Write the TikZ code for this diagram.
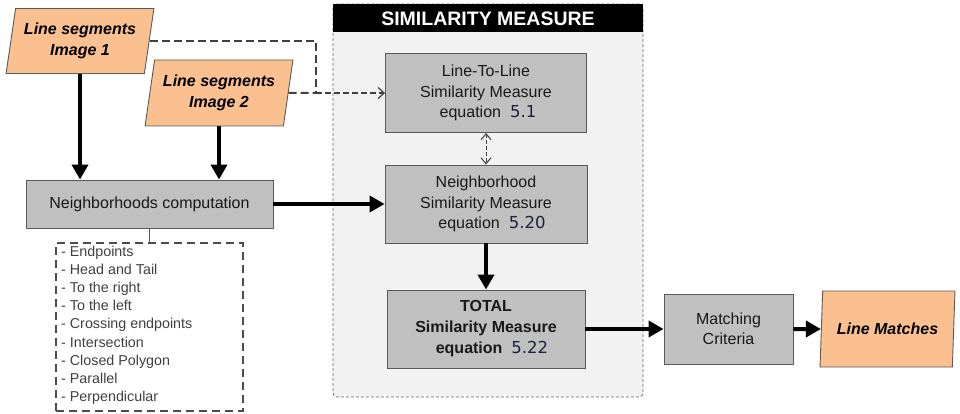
\documentclass[tikz,border=0pt]{standalone}
\usepackage{fontspec}
\setmainfont{Liberation Sans}
\newfontfamily\numfont{DejaVu Sans}
\usetikzlibrary{arrows.meta,shapes.geometric}
\definecolor{peach}{RGB}{250,192,144}
\definecolor{boxgray}{RGB}{192,192,192}
\definecolor{edgegray}{RGB}{90,90,90}
\definecolor{groupfill}{RGB}{242,242,242}
\definecolor{numcol}{RGB}{30,32,64}
\newcommand{\eqnum}[1]{{\fontsize{16.5}{20}\numfont\mdseries\color{numcol}#1}}
\begin{document}
\begin{tikzpicture}[x=1pt,y=-1pt,
  graybox/.style={draw=edgegray, fill=boxgray, line width=0.9pt, align=center,
    inner sep=0pt, font=\fontsize{16}{20.5}\selectfont, text=black!90},
  para/.style={trapezium, trapezium left angle=#1, trapezium right angle=180-#1,
    trapezium stretches=true, draw=edgegray, fill=peach, line width=0.9pt,
    align=center, inner sep=0pt, font=\fontsize{16}{21}\selectfont\bfseries\itshape},
  bigarrow/.style={line width=4pt, -{Triangle[length=15pt,width=16pt]}},
  dashconn/.style={draw=black!75, line width=2pt, dash pattern=on 8pt off 4pt},
  openhead/.style={-{Straight Barb[length=6pt,width=11pt,line width=1.2pt]}}
]
\useasboundingbox (0,0) rectangle (960,414);

% group box
\path[draw=black!60, fill=groupfill, line width=0.7pt, dash pattern=on 3pt off 2pt, rounded corners=4pt]
  (333,4) rectangle (643,397);
\path[fill=black] (333,4) rectangle (643,32);
\node[text=white, font=\fontsize{19.5}{22}\selectfont\bfseries] (hdr) at (488,18.5) {SIMILARITY MEASURE};

% input parallelograms
\node[para=77, minimum width=148pt, minimum height=65pt] (img1) at (80,41) {Line segments\\Image 1};
\node[para=77, minimum width=148pt, minimum height=66pt] (img2) at (219,93) {Line segments\\Image 2};

% boxes
\node[graybox, minimum width=247pt, minimum height=48pt] (nc) at (149.5,204) {Neighborhoods computation};
\node[graybox, minimum width=201pt, minimum height=79pt] (ltl) at (486,93)
  {Line-To-Line\\Similarity Measure\\\hspace*{4pt}equation\hspace{9pt}\eqnum{5.1}};
\node[graybox, minimum width=202pt, minimum height=78pt] (nsm) at (486,204)
  {Neighborhood\\Similarity Measure\\\hspace*{12pt}equation\hspace{9pt}\eqnum{5.20}};
\node[graybox, minimum width=198pt, minimum height=78pt, font=\fontsize{16}{21}\selectfont\bfseries] (tsm) at (486,329)
  {TOTAL\\Similarity Measure\\\hspace*{12pt}equation\hspace{9pt}\eqnum{5.22}};
\node[graybox, minimum width=129pt, minimum height=70pt] (mc) at (728.5,329) {Matching\\Criteria};
\node[para=80, minimum width=135pt, minimum height=76pt] (lm) at (887.5,329) {Line Matches};

% list box
\node[draw=black!70, line width=2pt, dash pattern=on 8pt off 5pt, minimum width=187pt, minimum height=168pt,
  inner sep=0pt] (lst) at (149.5,327) {};
\node[anchor=north west, align=left, inner sep=0pt, text=black!75,
  font=\fontsize{14.3}{18.1}\selectfont] (lsttxt) at (61,246)
  {- Endpoints\\- Head and Tail\\- To the right\\- To the left\\- Crossing endpoints\\- Intersection\\- Closed Polygon\\- Parallel\\- Perpendicular};

% connectors
\draw[bigarrow] (img1.south) -- (img1.south |- nc.north);
\draw[bigarrow] (img2.south) -- (img2.south |- nc.north);
\draw[bigarrow] (nc.east) -- (nsm.west);
\draw[bigarrow] (nsm.south) -- (tsm.north);
\draw[bigarrow] (tsm.east) -- (mc.west);
\draw[bigarrow] (mc.east) -- (lm.west);
\draw[draw=edgegray, line width=1.5pt] (nc.south) -- (lst.north);

\coordinate (j) at (316,93);
\draw[dashconn] (img1.east) -| (j);
\draw[dashconn] (img2.east) -- (j);
\draw[dashconn, dash pattern=on 6pt off 3pt, openhead] (j) -- (ltl.west);
\draw[draw=black!75, line width=1pt, dash pattern=on 4pt off 2pt,
  {Straight Barb[length=6pt,width=10pt,line width=1pt]}-{Straight Barb[length=6pt,width=10pt,line width=1pt]}]
  (ltl.south) -- (nsm.north);
\end{tikzpicture}
\end{document}
